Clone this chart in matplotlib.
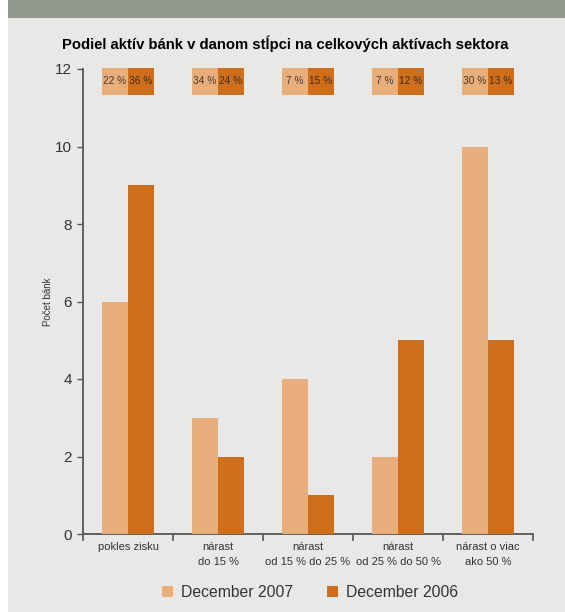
import matplotlib
matplotlib.use("Agg")
import matplotlib.pyplot as plt
from matplotlib.patches import Rectangle
import numpy as np

categories = ["pokles zisku", "nárast\ndo 15 %", "nárast\nod 15 % do 25 %",
              "nárast\nod 25 % do 50 %", "nárast o viac\nako 50 %"]
banks_2007 = [6, 3, 4, 2, 10]
banks_2006 = [9, 2, 1, 5, 5]
share_2007 = [22, 34, 7, 7, 30]
share_2006 = [36, 24, 15, 12, 13]
y_ticks = [0, 2, 4, 6, 8, 10, 12]

light = "#e8ae7c"
dark = "#cf6f1c"
bg = "#e8e9e6"
band = "#949990"
axis_col = "#555555"

plt.rcParams["font.family"] = ["Liberation Sans", "DejaVu Sans"]

fig = plt.figure(figsize=(5.65, 6.12), dpi=100)
fig.patch.set_facecolor("white")
# page background and header band
fig.add_artist(Rectangle((8 / 565, 0), 1, 1, transform=fig.transFigure,
                         facecolor=bg, edgecolor="none", zorder=-10))
fig.add_artist(Rectangle((8 / 565, 1 - 18 / 612), 1, 18 / 612, transform=fig.transFigure,
                         facecolor=band, edgecolor="none", zorder=-9))

ax = fig.add_axes([83 / 565, 1 - 534 / 612, 450 / 565, 465 / 612])
ax.set_facecolor(bg)

x = np.arange(len(categories))
w = 0.29
ax.bar(x - w / 2, banks_2007, width=w, color=light, label="December 2007", zorder=3)
ax.bar(x + w / 2, banks_2006, width=w, color=dark, label="December 2006", zorder=3)

# share of sector assets above each group
for xi, s7, s6 in zip(x, share_2007, share_2006):
    ax.add_patch(Rectangle((xi - w, 11.33), w, 0.7, facecolor=light, edgecolor="none",
                           clip_on=False, zorder=3))
    ax.add_patch(Rectangle((xi, 11.33), w, 0.7, facecolor=dark, edgecolor="none",
                           clip_on=False, zorder=3))
    ax.text(xi - w / 2, 11.68, f"{s7} %", ha="center", va="center", fontsize=7.3,
            color="#4a3a2a", zorder=4)
    ax.text(xi + w / 2, 11.68, f"{s6} %", ha="center", va="center", fontsize=7.3,
            color="#3a2a1a", zorder=4)

ax.set_xlim(-0.5, len(categories) - 0.5)
ax.set_ylim(0, 12)
ax.set_yticks(y_ticks)
ax.set_yticklabels([str(t) for t in y_ticks], fontsize=11, color="#333333")
ax.set_xticks(x)
ax.set_xticklabels(categories, fontsize=8, color="#333333", linespacing=1.6)
ax.set_xticks(np.arange(-0.5, len(categories)), minor=True)
ax.tick_params(axis="x", which="major", length=0, pad=6)
ax.tick_params(axis="x", which="minor", length=5, width=1.2, color=axis_col, direction="out")
ax.tick_params(axis="y", length=4, width=1, color=axis_col, pad=4)

for side in ("top", "right"):
    ax.spines[side].set_visible(False)
for side in ("left", "bottom"):
    ax.spines[side].set_color(axis_col)
    ax.spines[side].set_linewidth(1.3)
ax.spines["left"].set_zorder(5)

ax.set_ylabel("Počet bánk", fontsize=7, color="#333333")
ax.yaxis.set_label_coords(-0.067, 0.5)

fig.text(0.504, 1 - 44 / 612, "Podiel aktív bánk v danom stĺpci na celkových aktívach sektora",
         ha="center", va="center", fontsize=10.7, fontweight="bold", color="black")

leg = ax.legend(loc="upper center", bbox_to_anchor=(0.505, -0.079), ncol=2, frameon=False,
                fontsize=11.3, handlelength=0.7, handleheight=0.7, columnspacing=2.2,
                handletextpad=0.5, labelcolor="#333333")

fig.savefig("out.png", dpi=100, facecolor=fig.get_facecolor())
